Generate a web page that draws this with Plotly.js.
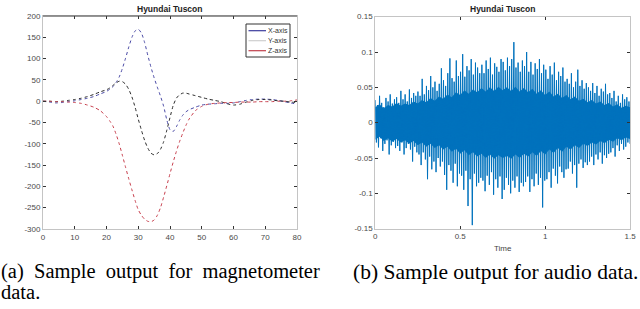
<!DOCTYPE html>
<html><head><meta charset="utf-8">
<script src="https://cdn.plot.ly/plotly-3.0.1.min.js"></script>
<style>html,body{margin:0;padding:0;background:#fff}#chart{width:640px;height:309px}</style>
</head><body><div id="chart"></div>
<script>
// ---- Magnetometer data (a) ----
const magTime = [0,2,4,6,8,10,12,14,16,18,
  20,21,22,23,24,25,26,27,28,29,30,31,32,33,34,35,36,37,38,39,40,41,42,43,44,45,46,
  48,50,52,54,56,58,60,62,64,66,68,70,72,74,76,78,80];
const magX = [0,-2,-4,-3,-1,1,4,7,11,17,
  23,28,34,44,57,77,101,127,150,165,169,160,138,108,80,55,33,12,-12,-44,-67,-71,-60,-45,-33,-25,-20,
  -14,-9,-7,-6,-5,-5,-4,-1,2,4,5,5,4,2,-1,-4,-7];
const magY = [0,0,-1,0,2,4,7,11,16,22,
  27,31,37,43,47,46,40,28,10,-14,-42,-68,-92,-110,-122,-126,-123,-113,-95,-68,-38,-10,7,15,19,19,17,
  13,9,5,2,-1,-6,-9,-7,-2,2,4,4,3,1,0,-2,-3];
const magZ = [0,0,-1,-1,-2,-3,-5,-9,-14,-22,
  -36,-46,-58,-77,-100,-127,-155,-182,-208,-233,-255,-268,-277,-282,-283,-279,-268,-250,-225,-198,-170,-143,-118,-95,-75,-57,-42,
  -22,-12,-7,-5,-4,-3,-3,-2,-2,-2,-1,-1,-1,0,0,1,3];
const magSeriesNames = ['X-axis','Y-axis','Z-axis'];
const magXTicks = [0,10,20,30,40,50,60,70,80];
const magYTicks = [-300,-250,-200,-150,-100,-50,0,50,100,150,200];
const magYTickText = ['-300','-250','-200','-150','-100','-50','0','50','100','150','200'];

// ---- Audio data (b), values in thousandths ----
const audioDuration = 1.5;
const audioPeaks = [
  32,25,38,28,22,35,30,40,27,33,
  36,28,45,33,40,30,47,35,42,38,
  44,38,62,40,52,46,66,50,58,45,
  55,77,60,52,70,91,63,58,88,66,
  72,97,65,80,74,90,68,85,78,70,
  82,70,88,76,92,68,84,79,72,90,
  86,74,92,80,90,114,78,85,72,88,
  80,100,72,86,68,84,76,90,70,82,
  75,62,80,68,85,60,72,66,78,58,
  62,55,70,50,58,75,52,60,48,56,
  50,45,56,42,52,38,48,44,55,40,
  42,35,45,30,38,28,40,33,36,30];
const audioTroughs = [
  -28,-35,-22,-40,-30,-25,-45,-32,-27,-36,
  -33,-40,-28,-45,-36,-30,-38,-55,-34,-42,
  -45,-60,-42,-52,-80,-48,-66,-55,-70,-50,
  -62,-55,-74,-95,-60,-68,-85,-58,-90,-72,
  -75,-95,-68,-118,-80,-145,-72,-90,-85,-78,
  -82,-97,-75,-88,-70,-102,-80,-92,-76,-108,
  -95,-78,-88,-100,-82,-92,-76,-98,-85,-90,
  -84,-76,-98,-80,-90,-72,-88,-78,-120,-82,
  -80,-70,-92,-65,-75,-86,-62,-70,-78,-66,
  -65,-55,-72,-60,-92,-58,-52,-64,-56,-60,
  -55,-48,-60,-45,-52,-42,-58,-46,-50,-44,
  -42,-36,-48,-32,-40,-30,-38,-34,-28,-30];
// dense core of the waveform (read every 0.025 s), thousandths
const audioCoreUpper = [
  22,26,20,25,23,28,24,27,25,30,
  27,32,29,35,31,37,34,40,36,43,
  39,46,41,47,43,49,44,50,45,51,
  46,50,45,51,44,49,43,48,41,46,
  39,44,37,41,35,39,33,37,31,34,
  29,32,27,30,25,28,23,26,21,24,
  22];
const audioCoreLower = [
  -24,-20,-26,-22,-27,-23,-28,-25,-30,-26,
  -32,-28,-34,-30,-36,-32,-38,-34,-41,-37,
  -44,-39,-46,-42,-48,-44,-50,-45,-51,-46,
  -50,-47,-51,-45,-50,-44,-48,-42,-47,-40,
  -45,-38,-43,-36,-41,-34,-38,-32,-36,-30,
  -33,-28,-31,-26,-29,-24,-27,-22,-25,-21,
  -23];
const audioXTicks = [0,0.5,1,1.5];
const audioXTickText = ['0','0.5','1','1.5'];
const audioYTicks = [-0.15,-0.1,-0.05,0,0.05,0.1,0.15];
const audioYTickText = ['-0.15','-0.1','-0.05','0','0.05','0.1','0.15'];

// build audio sample sequence
const audioValues = [];
for (let i = 0; i < audioPeaks.length; i++) {
  audioValues.push(audioPeaks[i] / 1000, audioTroughs[i] / 1000);
}
const audioTime = audioValues.map((_, k) => k * audioDuration / (audioValues.length - 1));
const coreTime = audioCoreUpper.map((_, k) => k * audioDuration / (audioCoreUpper.length - 1));

const curveColors = ['#4a4aa6', '#2a2a2a', '#c8404e'];
const legendColors = ['#3c3c9c', '#cfcfcf', '#c0404c'];
const magData = [magX, magY, magZ];
const audioColor = '#0072BD';

const traces = [];
magData.forEach((vals, i) => {
  traces.push({x: magTime, y: vals, type: 'scatter', mode: 'lines', name: magSeriesNames[i],
    line: {color: curveColors[i], width: 1, shape: 'spline', smoothing: 0.6, dash: 'dot'},
    showlegend: false, xaxis: 'x', yaxis: 'y', hoverinfo: 'skip'});
});
traces.push({x: coreTime, y: audioCoreLower.map(v => v / 1000), type: 'scatter', mode: 'lines',
  line: {color: audioColor, width: 0}, showlegend: false, xaxis: 'x2', yaxis: 'y2'});
traces.push({x: coreTime, y: audioCoreUpper.map(v => v / 1000), type: 'scatter', mode: 'lines',
  line: {color: audioColor, width: 0}, fill: 'tonexty', fillcolor: audioColor, showlegend: false, xaxis: 'x2', yaxis: 'y2'});
traces.push({x: audioTime, y: audioValues, type: 'scatter', mode: 'lines', name: 'audio',
  line: {color: audioColor, width: 1}, showlegend: false, xaxis: 'x2', yaxis: 'y2'});

const sans = 'Liberation Sans, Arial, sans-serif';
const serif = 'Liberation Serif, Times New Roman, serif';
const tickFont = {family: sans, size: 8, color: '#4a4a4a'};
const axisCommon = {showgrid: false, zeroline: false, showline: true, mirror: 'allticks',
  linecolor: '#c4c4c4', linewidth: 1, ticks: 'inside', ticklen: 3, tickcolor: '#333',
  tickfont: tickFont, fixedrange: true};

// manual compact legend (paper coordinates from pixel layout)
const W = 640, H = 309;
const px = v => v / W, py = v => (H - v) / H;
const legendBox = {x0: 246, x1: 290, y0: 24, y1: 57};
const legendRowY = [30.7, 40.7, 50.7];
const shapes = [
  {type: 'line', xref: 'x domain', yref: 'y domain', x0: 0, x1: 1, y0: 1, y1: 1, line: {color: '#444', width: 1}},
  {type: 'rect', xref: 'paper', yref: 'paper', x0: px(legendBox.x0), x1: px(legendBox.x1), y0: py(legendBox.y1), y1: py(legendBox.y0),
    line: {color: '#333', width: 1}, fillcolor: '#fff', layer: 'above'}
];
const annotations = [];
magSeriesNames.forEach((n, i) => {
  shapes.push({type: 'line', xref: 'paper', yref: 'paper', x0: px(248.5), x1: px(266), y0: py(legendRowY[i]), y1: py(legendRowY[i]),
    line: {color: legendColors[i], width: 1.2}, layer: 'above'});
  annotations.push({text: n, xref: 'paper', x: px(267), xanchor: 'left', yref: 'paper', y: py(legendRowY[i]), yanchor: 'middle',
    showarrow: false, font: {family: sans, size: 7, color: '#333'}, borderpad: 0});
});
annotations.push(
  {text: '<b>Hyundai Tuscon</b>', xref: 'x domain', x: 0.5, yref: 'paper', y: 0.971, showarrow: false, xanchor: 'center', yanchor: 'middle',
    font: {family: sans, size: 8.5, color: '#222'}},
  {text: '<b>Hyundai Tuscon</b>', xref: 'x2 domain', x: 0.5, yref: 'paper', y: 0.971, showarrow: false, xanchor: 'center', yanchor: 'middle',
    font: {family: sans, size: 8.5, color: '#222'}},
  {text: '(a)\u00A0 Sample\u00A0 output\u00A0 for\u00A0 magnetometer', xref: 'paper', x: 0, xanchor: 'left', yref: 'paper', y: py(271.5), yanchor: 'middle', showarrow: false,
    font: {family: serif, size: 20.5, color: '#000'}, borderpad: 0},
  {text: 'data.', xref: 'paper', x: 0, xanchor: 'left', yref: 'paper', y: py(292), yanchor: 'middle', showarrow: false,
    font: {family: serif, size: 20.5, color: '#000'}, borderpad: 0},
  {text: '(b) Sample output for audio data.', xref: 'paper', x: px(352), xanchor: 'left', yref: 'paper', y: py(271.5), yanchor: 'middle', showarrow: false,
    font: {family: serif, size: 21.5, color: '#000'}, borderpad: 0}
);

const layout = {
  width: W, height: H,
  margin: {l: 0, r: 0, t: 0, b: 0},
  paper_bgcolor: '#fff', plot_bgcolor: '#fff',
  xaxis: Object.assign({}, axisCommon, {domain: [0.0672, 0.4641], range: [0, 80], tickmode: 'array', tickvals: magXTicks, anchor: 'y'}),
  yaxis: Object.assign({}, axisCommon, {domain: [0.259, 0.948], range: [-300, 200], tickmode: 'array', tickvals: magYTicks, ticktext: magYTickText, anchor: 'x'}),
  xaxis2: Object.assign({}, axisCommon, {domain: [0.5864, 0.9844], range: [0, 1.5], tickmode: 'array', tickvals: audioXTicks, ticktext: audioXTickText, anchor: 'y2',
    title: {text: 'Time', font: {family: sans, size: 8, color: '#444'}, standoff: 5}}),
  yaxis2: Object.assign({}, axisCommon, {domain: [0.26, 0.946], range: [-0.15, 0.15], tickmode: 'array', tickvals: audioYTicks, ticktext: audioYTickText, anchor: 'x2'}),
  showlegend: false,
  shapes: shapes,
  annotations: annotations
};

Plotly.newPlot('chart', traces, layout, {displayModeBar: false, staticPlot: true});
</script>
</body></html>
